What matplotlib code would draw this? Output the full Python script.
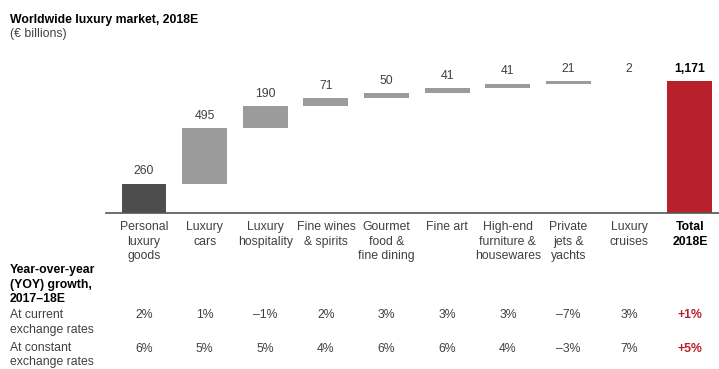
import matplotlib
matplotlib.use("Agg")
import matplotlib.pyplot as plt
from matplotlib.transforms import blended_transform_factory

plt.rcParams['font.family'] = ['Liberation Sans', 'DejaVu Sans']

# data
categories = ["Personal\nluxury\ngoods", "Luxury\ncars", "Luxury\nhospitality",
              "Fine wines\n& spirits", "Gourmet\nfood &\nfine dining", "Fine art",
              "High-end\nfurniture &\nhousewares", "Private\njets &\nyachts",
              "Luxury\ncruises", "Total\n2018E"]
values = [260, 495, 190, 71, 50, 41, 41, 21, 2]
total = 1171
value_labels = ["260", "495", "190", "71", "50", "41", "41", "21", "2", "1,171"]
growth_current = ["2%", "1%", "\u20131%", "2%", "3%", "3%", "3%", "\u20137%", "3%", "+1%"]
growth_constant = ["6%", "5%", "5%", "4%", "6%", "6%", "4%", "\u20133%", "7%", "+5%"]

W, H = 719, 369
fig = plt.figure(figsize=(W / 100, H / 100), dpi=100)

def fy(py):
    return 1 - py / H

ax = fig.add_axes([106 / W, fy(213), (W - 106) / W, 153 / H])
ax.set_xlim(-0.626, 9.48)
ax.set_ylim(0, total * 153 / 132)

dark = "#4d4d4d"
grey = "#9b9b9b"
red = "#b8202b"
txt = "#404040"
fs = 8.8

bottom = 0
for i, v in enumerate(values):
    ax.bar(i, v, bottom=bottom, width=0.74, color=dark if i == 0 else grey, linewidth=0)
    ax.annotate(value_labels[i], (i, bottom + v), xytext=(0, 4.5), textcoords="offset points",
                ha="center", va="bottom", fontsize=fs, color=txt)
    bottom += v
ax.bar(9, total, width=0.74, color=red, linewidth=0)
ax.annotate(value_labels[9], (9, total), xytext=(0, 4.5), textcoords="offset points",
            ha="center", va="bottom", fontsize=fs, fontweight="bold", color="black")

for s in ["top", "right", "left"]:
    ax.spines[s].set_visible(False)
ax.spines["bottom"].set_color("#555555")
ax.spines["bottom"].set_linewidth(1.2)
ax.set_xticks([])
ax.set_yticks([])

tr = blended_transform_factory(ax.transData, fig.transFigure)
for i, c in enumerate(categories):
    last = i == 9
    fig.text(i, fy(221), c, transform=tr, ha="center", va="top", fontsize=fs,
             linespacing=1.3, color="black" if last else txt,
             fontweight="bold" if last else "normal")
    fig.text(i, fy(315), growth_current[i], transform=tr, ha="center", va="center",
             fontsize=fs, color=red if last else txt, fontweight="bold" if last else "normal")
    fig.text(i, fy(349), growth_constant[i], transform=tr, ha="center", va="center",
             fontsize=fs, color=red if last else txt, fontweight="bold" if last else "normal")

fig.text(10 / W, fy(20), "Worldwide luxury market, 2018E", ha="left", va="center",
         fontsize=fs, fontweight="bold", color="black")
fig.text(10 / W, fy(34), "(\u20ac billions)", ha="left", va="center", fontsize=fs, color=txt)
fig.text(10 / W, fy(264), "Year-over-year\n(YOY) growth,\n2017\u201318E", ha="left", va="top",
         fontsize=fs, fontweight="bold", color="black", linespacing=1.3)
fig.text(10 / W, fy(309), "At current\nexchange rates", ha="left", va="top",
         fontsize=fs, color=txt, linespacing=1.3)
fig.text(10 / W, fy(342), "At constant\nexchange rates", ha="left", va="top",
         fontsize=fs, color=txt, linespacing=1.25)

fig.savefig("out.png", dpi=100)
